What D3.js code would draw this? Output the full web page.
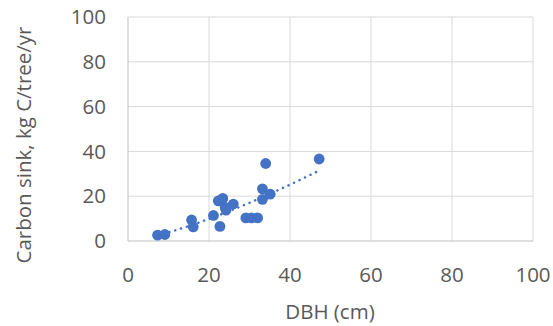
<!DOCTYPE html>
<html>
<head>
<meta charset="utf-8">
<script src="https://cdn.jsdelivr.net/npm/d3@7"></script>
<style>
  body { margin: 0; background: #fff; }
  text { font-family: "Open Sans", sans-serif; fill: #595959; }
</style>
</head>
<body>
<svg id="chart" width="553" height="326"></svg>
<script>
// values
const dbh  = [7.3, 9.1, 15.7, 16.1, 21.1, 22.7, 22.3, 23.4, 24.2, 24.0, 26.0, 29.1, 30.5, 32.0, 34.0, 33.2, 33.2, 35.1, 47.2];
const sink = [2.6, 2.9, 9.4, 6.3, 11.4, 6.5, 17.9, 19.0, 13.8, 15.0, 16.5, 10.3, 10.3, 10.3, 34.6, 23.3, 18.6, 20.9, 36.6];
const xTicks = [0, 20, 40, 60, 80, 100];
const yTicks = [0, 20, 40, 60, 80, 100];

const svg = d3.select('#chart');
const x = d3.scaleLinear().domain([0, 100]).range([128, 533]);
const y = d3.scaleLinear().domain([0, 100]).range([241, 17]);

// grid
svg.append('g').selectAll('line').data(xTicks.slice(1)).join('line')
    .attr('x1', d => x(d)).attr('x2', d => x(d))
    .attr('y1', y(0)).attr('y2', y(100))
    .attr('stroke', '#d9d9d9').attr('stroke-width', 1);
svg.append('g').selectAll('line').data(yTicks.slice(1)).join('line')
    .attr('x1', x(0)).attr('x2', x(100))
    .attr('y1', d => y(d)).attr('y2', d => y(d))
    .attr('stroke', '#d9d9d9').attr('stroke-width', 1);

// axes lines
svg.append('line').attr('x1', x(0)).attr('x2', x(0)).attr('y1', y(0)).attr('y2', y(100))
    .attr('stroke', '#bfbfbf');
svg.append('line').attr('x1', x(0)).attr('x2', x(100)).attr('y1', y(0)).attr('y2', y(0))
    .attr('stroke', '#bfbfbf');

// tick labels
svg.append('g').selectAll('text').data(yTicks).join('text')
    .attr('x', 106).attr('y', d => y(d))
    .attr('dy', '0.35em')
    .attr('text-anchor', 'end')
    .attr('font-size', '20.5px')
    .text(d => d);
svg.append('g').selectAll('text').data(xTicks).join('text')
    .attr('x', d => x(d)).attr('y', 275)
    .attr('dy', '0.35em')
    .attr('text-anchor', 'middle')
    .attr('font-size', '20.5px')
    .text(d => d);

// axis titles
svg.append('text')
    .attr('x', 330).attr('y', 312)
    .attr('dy', '0.35em')
    .attr('text-anchor', 'middle')
    .attr('font-size', '20.5px')
    .text('DBH (cm)');
svg.append('text')
    .attr('transform', 'translate(24,145) rotate(-90)')
    .attr('dy', '0.35em')
    .attr('text-anchor', 'middle')
    .attr('font-size', '20.5px')
    .text('Carbon sink, kg C/tree/yr');

// power trendline fitted in log-log space
const lx = dbh.map(Math.log), ly = sink.map(Math.log);
const mx = d3.mean(lx), my = d3.mean(ly);
const b = d3.sum(lx, (v, i) => (v - mx) * (ly[i] - my)) / d3.sum(lx, v => (v - mx) * (v - mx));
const a = Math.exp(my - b * mx);
const [xmin, xmax] = d3.extent(dbh);
const trend = d3.range(0, 51).map(i => xmin + (xmax - xmin) * i / 50);
svg.append('path')
    .datum(trend)
    .attr('d', d3.line().x(d => x(d)).y(d => y(a * Math.pow(d, b))))
    .attr('fill', 'none')
    .attr('stroke', '#4472C4')
    .attr('stroke-width', 2.5)
    .attr('stroke-linecap', 'round')
    .attr('stroke-dasharray', '0.1 6');

// points
svg.append('g').selectAll('circle').data(dbh).join('circle')
    .attr('cx', d => x(d))
    .attr('cy', (d, i) => y(sink[i]))
    .attr('r', 5.4)
    .attr('fill', '#4472C4');
</script>
</body>
</html>
